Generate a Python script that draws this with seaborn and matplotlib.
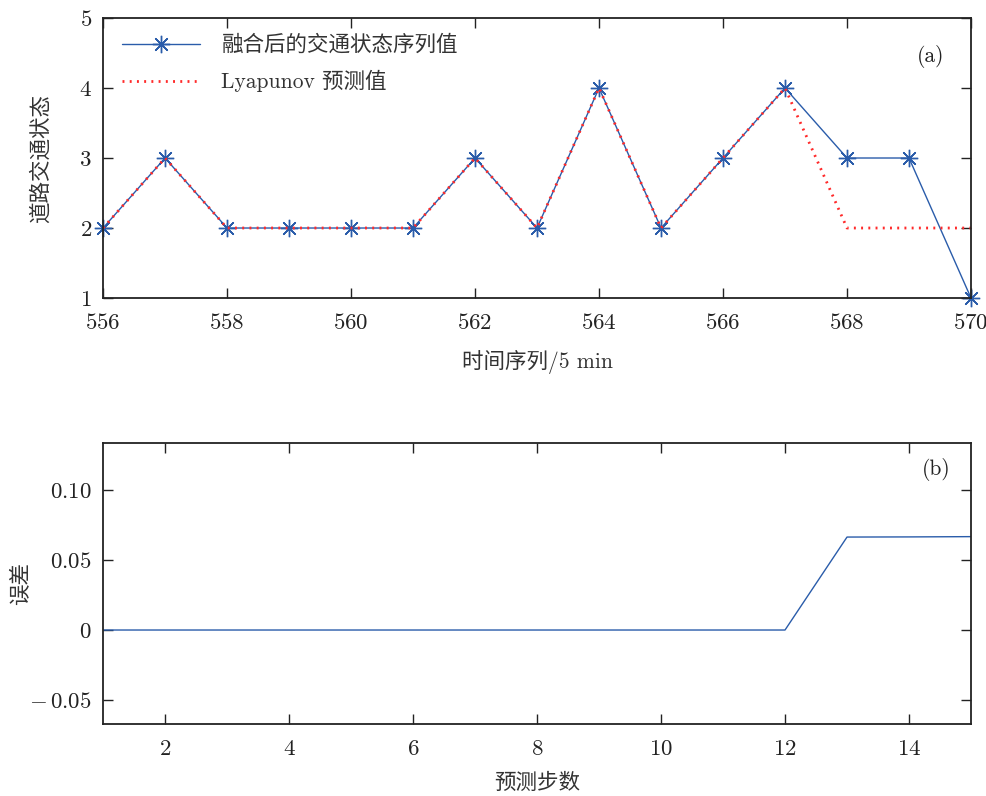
import matplotlib
matplotlib.use("Agg")
import matplotlib.pyplot as plt
import seaborn as sns
import pandas as pd

# ---- data ----
time_idx = [556, 557, 558, 559, 560, 561, 562, 563, 564, 565, 566, 567, 568, 569, 570]
fused_state = [2, 3, 2, 2, 2, 2, 3, 2, 4, 2, 3, 4, 3, 3, 1]
lyap_pred = [2, 3, 2, 2, 2, 2, 3, 2, 4, 2, 3, 4, 2, 2, 2]
steps = [1, 2, 3, 4, 5, 6, 7, 8, 9, 10, 11, 12, 13, 14, 15]
error = [0, 0, 0, 0, 0, 0, 0, 0, 0, 0, 0, 0, 0.0664, 0.0665, 0.0667]

top_xticks = [556, 558, 560, 562, 564, 566, 568, 570]
top_yticks = [1, 2, 3, 4, 5]
bot_xticks = [2, 4, 6, 8, 10, 12, 14]
bot_yticks = [-0.05, 0, 0.05, 0.10]
bot_yticklabels = ["$-\\,0.05$", "$0$", "$0.05$", "$0.10$"]

sns.set_style("white")
plt.rcParams['font.family'] = ['cmr10', 'Noto Sans CJK SC']
plt.rcParams['mathtext.fontset'] = 'cm'
plt.rcParams['axes.unicode_minus'] = False
plt.rcParams['axes.formatter.use_mathtext'] = True

BLUE = "#2a5caa"
RED = "#ff2a2a"
FS = 16.5
LFS = 15.5
TXT = "#333333"

fig = plt.figure(figsize=(9.87, 7.96), dpi=100)
ax1 = fig.add_axes([0.1044, 0.6256, 0.8794, 0.3518])
ax2 = fig.add_axes([0.1044, 0.0905, 0.8794, 0.3530])

df1 = pd.DataFrame({"t": time_idx, "s": fused_state, "p": lyap_pred})
sns.lineplot(data=df1, x="t", y="s", ax=ax1, color=BLUE, lw=1.0,
             marker=(8, 2, 0), markersize=12.5, markeredgecolor=BLUE,
             markerfacecolor=BLUE, markeredgewidth=1.0,
             label="融合后的交通状态序列值", clip_on=False)
sns.lineplot(data=df1, x="t", y="p", ax=ax1, color=RED, lw=2.0,
             linestyle=(0, (0.7, 1.9)), label="Lyapunov 预测值",
             clip_on=False)

ax1.set_xlim(556, 570)
ax1.set_ylim(1, 5)
ax1.set_xticks(top_xticks)
ax1.set_xticklabels([f"${v}$" for v in top_xticks], fontsize=FS)
ax1.set_yticks(top_yticks)
ax1.set_yticklabels([f"${v}$" for v in top_yticks], fontsize=FS)
ax1.set_xlabel("时间序列/5 min", fontsize=LFS, color=TXT, va="center")
ax1.xaxis.set_label_coords(0.5, -0.23)
ax1.set_ylabel("道路交通状态", fontsize=LFS, color=TXT, va="center")
ax1.yaxis.set_label_coords(-0.0726, 0.5)
ax1.text(0.953, 0.864, "(a)", transform=ax1.transAxes, fontsize=LFS,
         ha="center", va="center", color="#222222")
leg = ax1.legend(loc="upper left", frameon=False, fontsize=LFS, handlelength=3.6,
                 labelspacing=0.7, borderaxespad=0.5, handletextpad=1.0,
                 bbox_to_anchor=(0.0, 1.01))
for t in leg.get_texts():
    t.set_color(TXT)

df2 = pd.DataFrame({"k": steps, "e": error})
sns.lineplot(data=df2, x="k", y="e", ax=ax2, color=BLUE, lw=1.0)
ax2.set_xlim(1, 15)
ax2.set_ylim(-0.0671, 0.1336)
ax2.set_xticks(bot_xticks)
ax2.set_xticklabels([f"${v}$" for v in bot_xticks], fontsize=FS)
ax2.set_yticks(bot_yticks)
ax2.set_yticklabels(bot_yticklabels, fontsize=FS)
ax2.set_xlabel("预测步数", fontsize=LFS, color=TXT, va="center")
ax2.xaxis.set_label_coords(0.5, -0.21)
ax2.set_ylabel("误差", fontsize=LFS, color=TXT, va="center")
ax2.yaxis.set_label_coords(-0.0956, 0.5)
ax2.text(0.9597, 0.904, "(b)", transform=ax2.transAxes, fontsize=LFS,
         ha="center", va="center", color="#222222")

for ax in (ax1, ax2):
    for sp in ax.spines.values():
        sp.set_visible(True)
        sp.set_linewidth(1.3)
        sp.set_color("#222222")
    ax.tick_params(direction="in", length=7, width=1.0, top=True, right=True,
                   bottom=True, left=True, colors="#222222")
    ax.tick_params(axis="x", pad=11)
    ax.tick_params(axis="y", pad=8)

fig.savefig("out.png", dpi=100)
